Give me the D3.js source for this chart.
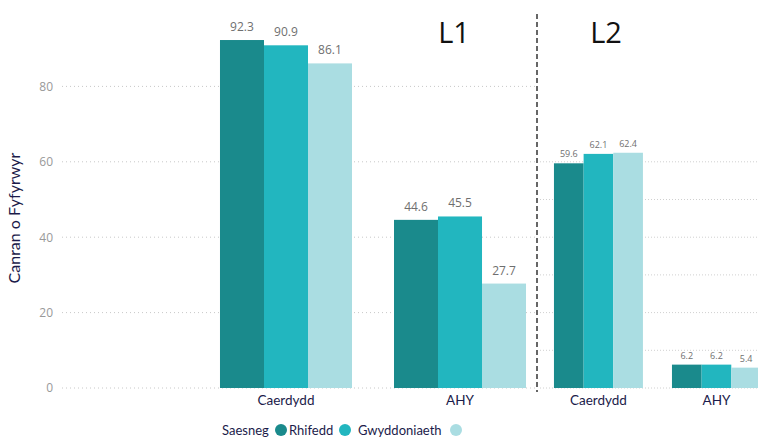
<!DOCTYPE html>
<html><head><meta charset="utf-8">
<script src="https://cdn.jsdelivr.net/npm/d3@7"></script>
<style>body{margin:0;background:#fff;}svg{display:block;}</style>
</head><body>
<svg id="c" width="758" height="437"></svg>
<script>
const series = ["Saesneg", "Rhifedd", "Gwyddoniaeth"];
const colors = ["#1a8a8c", "#22b6bf", "#aadde2"];
const categories = ["Caerdydd", "AHY"];
const l1Values = [[92.3, 90.9, 86.1], [44.6, 45.5, 27.7]];
const l2Values = [[59.6, 62.1, 62.4], [6.2, 6.2, 5.4]];
const yTicks = [0, 20, 40, 60, 80];
const l2Grid = [0, 10, 20, 30, 40, 50, 60];
const panelTitles = ["L1", "L2"];
const yTitle = "Canran o Fyfyrwyr";

const svg = d3.select("#c");
const y = d3.scaleLinear().domain([0, 100]).range([388, 11]);

// L1 gridlines
const g1 = svg.append("g");
g1.selectAll("line.grid").data(yTicks).join("line")
  .attr("x1", 62).attr("x2", 535)
  .attr("y1", d => y(d)).attr("y2", d => y(d))
  .attr("stroke", "#c8c8c8").attr("stroke-dasharray", "1,3").attr("stroke-width", 1);
// y axis labels
const yAxis = d3.axisLeft(y).tickValues(yTicks).tickSize(0).tickPadding(0);
const ya = svg.append("g").attr("transform", "translate(53,0)").call(yAxis);
ya.select(".domain").remove();
ya.selectAll("text").attr("fill", "#999").style("font-family", "Open Sans, sans-serif").style("font-size", "12px");

// L2 gridlines
svg.append("g").selectAll("line").data(l2Grid).join("line")
  .attr("x1", 540).attr("x2", 758)
  .attr("y1", d => y(d)).attr("y2", d => y(d))
  .attr("stroke", "#d0d0d0").attr("stroke-dasharray", "1,2").attr("stroke-width", 1);

function panel(values, range, pInner, labelSize, labelGap) {
  const x0 = d3.scaleBand().domain(categories).range(range).paddingInner(pInner).paddingOuter(0.12);
  const x1 = d3.scaleBand().domain(series).range([0, x0.bandwidth()]);
  const g = svg.append("g");
  const groups = g.selectAll("g.grp").data(categories).join("g")
    .attr("transform", d => `translate(${x0(d)},0)`);
  groups.each(function(cat, ci) {
    const gg = d3.select(this);
    const data = series.map((s, si) => ({s, si, v: values[ci][si]}));
    gg.selectAll("rect").data(data).join("rect")
      .attr("x", d => x1(d.s)).attr("width", x1.bandwidth())
      .attr("y", d => y(d.v)).attr("height", d => y(0) - y(d.v))
      .attr("fill", d => colors[d.si]);
    gg.selectAll("text").data(data).join("text")
      .attr("x", d => x1(d.s) + x1.bandwidth() / 2)
      .attr("y", d => y(d.v) - labelGap)
      .attr("text-anchor", "middle")
      .attr("fill", "#6f6f6f")
      .style("font-family", "Open Sans, sans-serif")
      .style("font-size", labelSize + "px")
      .text(d => d.v.toFixed(1));
  });
  const ax = d3.axisBottom(x0).tickSize(0).tickPadding(0);
  const a = svg.append("g").attr("transform", "translate(0,395)").call(ax);
  a.select(".domain").remove();
  a.selectAll("text").attr("fill", "#1b1b4a").attr("dy", "0.71em")
    .style("font-family", "Lato, sans-serif").style("font-size", "13.5px");
  return x0;
}
panel(l1Values, [199.1, 546.9], 0.2414, 12, 9);
panel(l2Values, [539.8, 775.1], 0.246, 9, 6);

// dashed separator
svg.append("line").attr("x1", 537).attr("x2", 537).attr("y1", 14).attr("y2", 392)
  .attr("stroke", "#666").attr("stroke-width", 2).attr("stroke-dasharray", "5,3");

// panel titles
svg.selectAll("text.pt").data(panelTitles).join("text").attr("class", "pt")
  .attr("x", (d, i) => [454, 606][i]).attr("y", 43)
  .attr("text-anchor", "middle").attr("fill", "#111")
  .style("font-family", "Open Sans, sans-serif").style("font-size", "29px")
  .text(d => d);

// y title
svg.append("text").attr("transform", "translate(20,218) rotate(-90)")
  .attr("text-anchor", "middle").attr("fill", "#1b1b4a")
  .style("font-family", "Lato, sans-serif").style("font-size", "16px")
  .text(yTitle);

// legend: labels followed by dots
const legX = [222, 289, 358];
const dotX = [281, 345, 456];
const leg = svg.append("g");
leg.selectAll("text").data(series).join("text")
  .attr("x", (d, i) => legX[i]).attr("y", 435)
  .attr("fill", "#1b1b4a").style("font-family", "Lato, sans-serif").style("font-size", "13px")
  .text(d => d);
leg.selectAll("circle").data(series).join("circle")
  .attr("cx", (d, i) => dotX[i]).attr("cy", 430).attr("r", 6)
  .attr("fill", (d, i) => colors[i]);
</script>
</body></html>
